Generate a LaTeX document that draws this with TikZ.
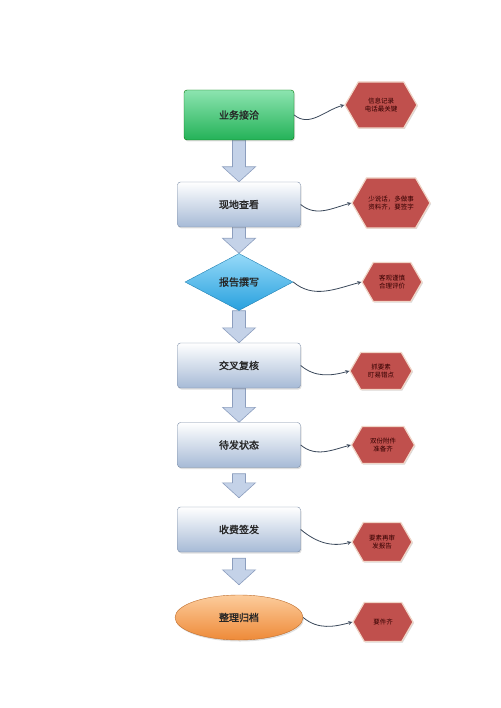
\documentclass[tikz,border=0pt]{standalone}
\usepackage{fontspec}
\usepackage{tikz}
\usetikzlibrary{shapes.geometric,shapes.symbols,shadows,calc,backgrounds}
\newfontfamily\cjk[AutoFakeBold=1.6]{Noto Sans CJK SC}
\definecolor{boxblue}{RGB}{166,186,214}
\definecolor{boxline}{RGB}{122,140,166}
\definecolor{greentop}{RGB}{140,228,176}
\definecolor{greenbot}{RGB}{36,178,88}
\definecolor{bluetop}{RGB}{150,218,248}
\definecolor{bluebot}{RGB}{40,160,222}
\definecolor{orangetop}{RGB}{252,204,156}
\definecolor{orangebot}{RGB}{238,138,56}
\definecolor{arrowfill}{RGB}{196,210,232}
\definecolor{arrowline}{RGB}{140,158,190}
\definecolor{hexred}{RGB}{192,80,77}
\definecolor{hexrim}{RGB}{240,214,200}
\definecolor{linkgray}{RGB}{58,72,90}

\begin{document}
\begin{tikzpicture}[x=1pt, y=-1pt, font=\cjk\bfseries\fontsize{10}{12}\selectfont,
 proc/.style = {shape=rectangle, rounded corners=3pt, draw=boxline, top color=white, bottom color=boxblue, align=center, text=black!85, minimum width=123, minimum height=45, drop shadow={opacity=0.25, shadow xshift=1pt, shadow yshift=-1.5pt}},
 start/.style = {proc, draw=green!45!black, top color=greentop, bottom color=greenbot, minimum width=110, minimum height=50},
 check/.style = {shape=diamond, aspect=1.9, inner sep=0pt, draw=bluebot!80!black, top color=bluetop, bottom color=bluebot, text=black!85, minimum width=108, minimum height=57},
 finish/.style = {shape=ellipse, draw=orangebot!80!black, top color=orangetop, bottom color=orangebot, text=black!85, minimum width=128, minimum height=45, drop shadow={opacity=0.25, shadow xshift=1pt, shadow yshift=-1.5pt}},
 note/.style = {shape=signal, signal to=east and west, signal pointer angle=120, fill=hexred, draw=hexrim, line width=1.2pt, align=center, text=black!80!red, font=\cjk\fontsize{6.5}{8}\selectfont, inner sep=1pt, drop shadow={opacity=0.3, shadow xshift=1pt, shadow yshift=-1pt}},
 blk/.style = {draw=arrowline, fill=arrowfill, line width=0.6pt},
 link/.style = {draw=linkgray, line width=0.8pt, -stealth}]
\useasboundingbox (0,0) rectangle (500,708);

% main flow
\node[start] (n1) at (239,115) {业务接洽};
\node[proc] (n2) at (239,204.5) {现地查看};
\node[check] (n3) at (239,282) {报告撰写};
\node[proc] (n4) at (239,365.5) {交叉复核};
\node[proc] (n5) at (239,445) {待发状态};
\node[proc] (n6) at (239,529.5) {收费签发};
\node[finish] (n7) at (239,617.5) {整理归档};

% notes
\node[note, minimum width=72, minimum height=46] (h1) at (381,105) {信息记录\\电话最关键};
\node[note, minimum width=78, minimum height=50] (h2) at (391,203) {少说话，多做事\\资料齐，要签字};
\node[note, minimum width=60, minimum height=39] (h3) at (392,282) {客观谨慎\\合理评价};
\node[note, minimum width=62, minimum height=37] (h4) at (381,371) {抓要素\\盯易错点};
\node[note, minimum width=63, minimum height=37] (h5) at (383,445) {双份附件\\准备齐};
\node[note, minimum width=60, minimum height=39] (h6) at (382,542) {要素再审\\发报告};
\node[note, minimum width=60, minimum height=39] (h7) at (383,622) {要件齐};

% block arrows
\begin{pgfonlayer}{background}
\foreach \a/\b/\s/\e in {n1/n2/0/0, n2/n3/0/0, n3/n4/0/0, n4/n5/0/0, n5/n6/6/9, n6/n7/6/10}
  \draw[blk] let \p1=(\a.south), \p2=(\b.north) in
    (\x1-6.5pt,\y1-\s pt) -- (\x1-6.5pt,\y2+\e pt+15pt) -- (\x1-16.5pt,\y2+\e pt+15pt) -- (\x1,\y2+\e pt)
    -- (\x1+16.5pt,\y2+\e pt+15pt) -- (\x1+6.5pt,\y2+\e pt+15pt) -- (\x1+6.5pt,\y1-\s pt) -- cycle;
\end{pgfonlayer}

% links
\foreach \i in {1,...,7}
  \draw[link] (n\i.east) to[out=-40, in=195] (h\i.west);
\end{tikzpicture}
\end{document}
